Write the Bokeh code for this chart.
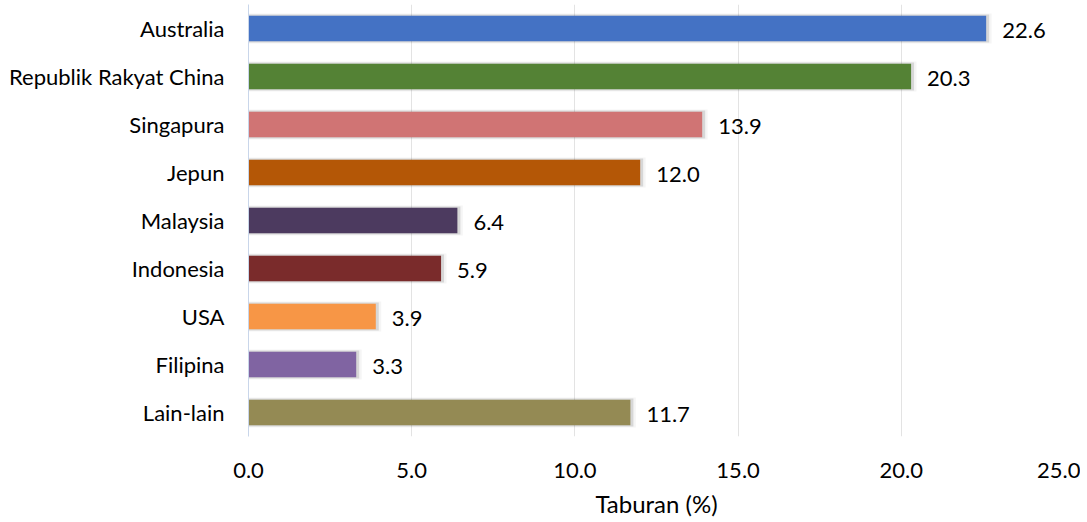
from bokeh.plotting import figure
from bokeh.models import ColumnDataSource, FixedTicker, CustomJSTickFormatter, Range1d
from bokeh.core.properties import value
from bokeh.embed import file_html
from bokeh.resources import INLINE

categories = ["Australia", "Republik Rakyat China", "Singapura", "Jepun", "Malaysia",
              "Indonesia", "USA", "Filipina", "Lain-lain"]
values = [22.6, 20.3, 13.9, 12.0, 6.4, 5.9, 3.9, 3.3, 11.7]
colors = ["#4472C4", "#548235", "#D07474", "#B45706", "#4C3A5F",
          "#7A2B2B", "#F79646", "#8064A2", "#948A54"]
labels = ["%.1f" % v for v in values]
x_ticks = [0, 5, 10, 15, 20, 25]

FONT = "Lato"

factors = list(reversed(categories))
px_per_unit = (1064 - 248) / 25.0

src = ColumnDataSource(dict(
    cat=categories, val=values, col=colors, lab=labels,
    sh1=[v + 3.0 / px_per_unit for v in values],
    sh2=[v + 5.5 / px_per_unit for v in values],
    labx=[v + 16.0 / px_per_unit for v in values],
))

p = figure(y_range=factors, x_range=Range1d(0, 25), width=1080, height=520,
           output_backend="svg", toolbar_location=None,
           min_border_left=248, min_border_right=16, min_border_top=4, min_border_bottom=84)
p.outline_line_color = None

# soft shadow
p.hbar(y="cat", left=0, right="sh2", height=0.63, source=src,
       fill_color="#000000", fill_alpha=0.04, line_color=None)
p.hbar(y="cat", left=0, right="sh1", height=0.58, source=src,
       fill_color="#000000", fill_alpha=0.12, line_color=None)
p.hbar(y="cat", left=0, right="val", height=0.53, source=src,
       fill_color="col", line_color=None)

p.text(x="labx", y="cat", text="lab", source=src, text_font=value(FONT),
       text_font_size="22px", text_baseline="middle", text_align="left",
       text_color="#000000", y_offset=2)

p.xaxis.ticker = FixedTicker(ticks=x_ticks)
p.xaxis.formatter = CustomJSTickFormatter(code="return tick.toFixed(1);")
p.xaxis.axis_line_color = None
p.xaxis.major_tick_line_color = None
p.xaxis.minor_tick_line_color = None
p.xaxis.major_label_text_font_size = "22px"
p.xaxis.major_label_text_color = "#000000"
p.xaxis.major_label_standoff = 20
p.xaxis.axis_label = "Taburan (%)"
p.xaxis.axis_label_text_font_size = "24px"
p.xaxis.axis_label_text_font_style = "normal"
p.xaxis.axis_label_text_color = "#000000"
p.xaxis.axis_label_standoff = 8

p.yaxis.axis_line_color = "#C9D6EA"
p.yaxis.axis_line_width = 1
p.yaxis.major_tick_line_color = None
p.yaxis.minor_tick_line_color = None
p.yaxis.major_label_text_font_size = "22px"
p.yaxis.major_label_text_color = "#000000"
p.yaxis.major_label_standoff = 18

p.xgrid.grid_line_color = "#E3E3E3"
p.ygrid.grid_line_color = None

for ax in (p.xaxis[0], p.yaxis[0]):
    ax.major_label_text_font = FONT
    ax.axis_label_text_font = FONT

open("out.html", "w").write(file_html(p, INLINE))
